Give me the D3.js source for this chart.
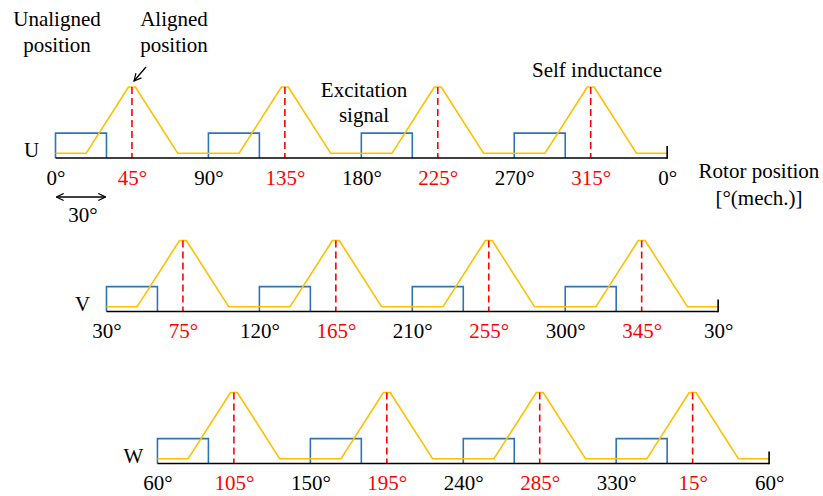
<!DOCTYPE html>
<html>
<head>
<meta charset="utf-8">
<script src="https://cdn.jsdelivr.net/npm/d3@7"></script>
<style>
  html, body { margin: 0; padding: 0; background: #fff; }
  svg { display: block; }
  svg text { font-family: "Liberation Serif", "Times New Roman", serif !important; }
</style>
</head>
<body>
<svg id="chart" width="823" height="496"></svg>
<script>
// Phase names
const phases = ["U", "V", "W"];

// Rotor angle (unwrapped, mech. degrees) where each phase axis starts
const phaseStart = [0, 30, 60];

// Self-inductance breakpoints per phase: angle [deg] and normalised inductance
const uAngles = [0, 18, 43, 47, 72, 108, 133, 137, 162, 198, 223, 227, 252, 288, 313, 317, 342, 360];
const vAngles = [30, 48, 73, 77, 102, 138, 163, 167, 192, 228, 253, 257, 282, 318, 343, 347, 372, 390];
const wAngles = [60, 78, 103, 107, 132, 168, 193, 197, 222, 258, 283, 287, 312, 348, 373, 377, 402, 420];
const inductance = [0.066, 0.066, 1, 1, 0.066, 0.066, 1, 1, 0.066, 0.066, 1, 1, 0.066, 0.066, 1, 1, 0.066, 0.066];

// Excitation pulses: start angle of each pulse, pulse width and amplitude
const uPulseStart = [0, 90, 180, 270];
const vPulseStart = [30, 120, 210, 300];
const wPulseStart = [60, 150, 240, 330];
const pulseWidth = 30;
const pulseLevel = 0.35;

// Aligned positions (peak of inductance)
const uAligned = [45, 135, 225, 315];
const vAligned = [75, 165, 255, 345];
const wAligned = [105, 195, 285, 375];

// Tick positions and labels
const uTickPos = [0, 45, 90, 135, 180, 225, 270, 315, 360];
const vTickPos = [30, 75, 120, 165, 210, 255, 300, 345, 390];
const wTickPos = [60, 105, 150, 195, 240, 285, 330, 375, 420];
const uTickLabels = ["0°", "45°", "90°", "135°", "180°", "225°", "270°", "315°", "0°"];
const vTickLabels = ["30°", "75°", "120°", "165°", "210°", "255°", "300°", "345°", "30°"];
const wTickLabels = ["60°", "105°", "150°", "195°", "240°", "285°", "330°", "15°", "60°"];

const rows = [
  { name: phases[0], start: phaseStart[0], angles: uAngles, pulses: uPulseStart, aligned: uAligned, ticks: uTickPos, labels: uTickLabels, base: 158 },
  { name: phases[1], start: phaseStart[1], angles: vAngles, pulses: vPulseStart, aligned: vAligned, ticks: vTickPos, labels: vTickLabels, base: 311.5 },
  { name: phases[2], start: phaseStart[2], angles: wAngles, pulses: wPulseStart, aligned: wAligned, ticks: wTickPos, labels: wTickLabels, base: 463.5 }
];

const ORANGE = "#FFC000", BLUE = "#2E75B6", RED = "#FF0000";
const FS = 21;
const SERIF = "'Liberation Serif', 'Times New Roman', serif";

const svg = d3.select("#chart");
const x = d3.scaleLinear().domain([0, 420]).range([55.5, 769.1]);

const defs = svg.append("defs");
defs.append("marker")
  .attr("id", "chev").attr("viewBox", "0 0 10 10").attr("refX", 9).attr("refY", 5)
  .attr("markerWidth", 9).attr("markerHeight", 9).attr("markerUnits", "userSpaceOnUse")
  .attr("orient", "auto-start-reverse")
  .append("path").attr("d", "M1,1 L9,5 L1,9").attr("fill", "none").attr("stroke", "#000").attr("stroke-width", 1.3);

rows.forEach((r, i) => {
  const y = d3.scaleLinear().domain([0, 1]).range([r.base, r.base - 71]);
  const g = svg.append("g");
  const end = r.start + 360;

  // excitation pulses
  g.selectAll("path.pulse").data(r.pulses).join("path")
    .attr("class", "pulse")
    .attr("d", s => `M${x(s)},${y(0)}V${y(pulseLevel)}H${x(s + pulseWidth)}V${y(0)}`)
    .attr("fill", "none").attr("stroke", BLUE).attr("stroke-width", 1.6);

  // self inductance profile
  const line = d3.line().x(d => x(d[0])).y(d => y(d[1]));
  g.append("path")
    .attr("d", line(r.angles.map((a, k) => [a, inductance[k]])))
    .attr("fill", "none").attr("stroke", ORANGE).attr("stroke-width", 1.6)
    .attr("stroke-linejoin", "round");

  // aligned-position markers
  g.selectAll("line.aligned").data(r.aligned).join("line")
    .attr("class", "aligned")
    .attr("x1", d => x(d)).attr("x2", d => x(d))
    .attr("y1", y(1)).attr("y2", y(0))
    .attr("stroke", RED).attr("stroke-width", 1.6).attr("stroke-dasharray", "7,4");

  // angle axis
  g.append("line").attr("x1", x(r.start)).attr("x2", x(end))
    .attr("y1", r.base).attr("y2", r.base).attr("stroke", "#000").attr("stroke-width", 1.6);
  g.append("line").attr("x1", x(end)).attr("x2", x(end))
    .attr("y1", r.base - 12).attr("y2", r.base + 0.8).attr("stroke", "#000").attr("stroke-width", 1.6);

  const axis = d3.axisBottom(x).tickValues(r.ticks).tickSize(0).tickPadding(12)
    .tickFormat((d, k) => r.labels[k]);
  const ag = svg.append("g").attr("transform", `translate(0,${r.base})`).call(axis)
    .attr("font-family", SERIF).attr("font-size", FS);
  ag.select(".domain").remove();
  ag.selectAll("text")
    .style("font-family", SERIF)
    .style("font-size", FS + "px")
    .attr("fill", (d, k) => k % 2 === 1 ? RED : "#000");

  // phase label
  svg.append("text").attr("x", x(r.start) - 24).attr("y", r.base - 1)
    .attr("text-anchor", "middle").style("font-size", FS + "px").text(r.name);
});

// annotations
function multiline(cx, y0, lines, dy) {
  const t = svg.append("text").attr("text-anchor", "middle").style("font-size", FS + "px");
  lines.forEach((s, k) => t.append("tspan").attr("x", cx).attr("y", y0 + k * dy).text(s));
}
multiline(57, 26, ["Unaligned", "position"], 26);
multiline(174, 26, ["Aligned", "position"], 26);
multiline(364, 97, ["Excitation", "signal"], 25);
multiline(597, 77, ["Self inductance"], 0);
multiline(759, 178, ["Rotor position", "[°(mech.)]"], 27);

// arrow to aligned position
svg.append("line").attr("x1", 146).attr("y1", 67).attr("x2", 134).attr("y2", 81)
  .attr("stroke", "#000").attr("stroke-width", 1.3).attr("marker-end", "url(#chev)");

// pulse width indicator
svg.append("line").attr("x1", x(0) + 1).attr("x2", x(pulseWidth) - 1).attr("y1", 197).attr("y2", 197)
  .attr("stroke", "#000").attr("stroke-width", 1.3)
  .attr("marker-start", "url(#chev)").attr("marker-end", "url(#chev)");
svg.append("text").attr("x", (x(0) + x(pulseWidth)) / 2 + 2).attr("y", 222)
  .attr("text-anchor", "middle").style("font-size", FS + "px").text(pulseWidth + "°");
</script>
</body>
</html>
